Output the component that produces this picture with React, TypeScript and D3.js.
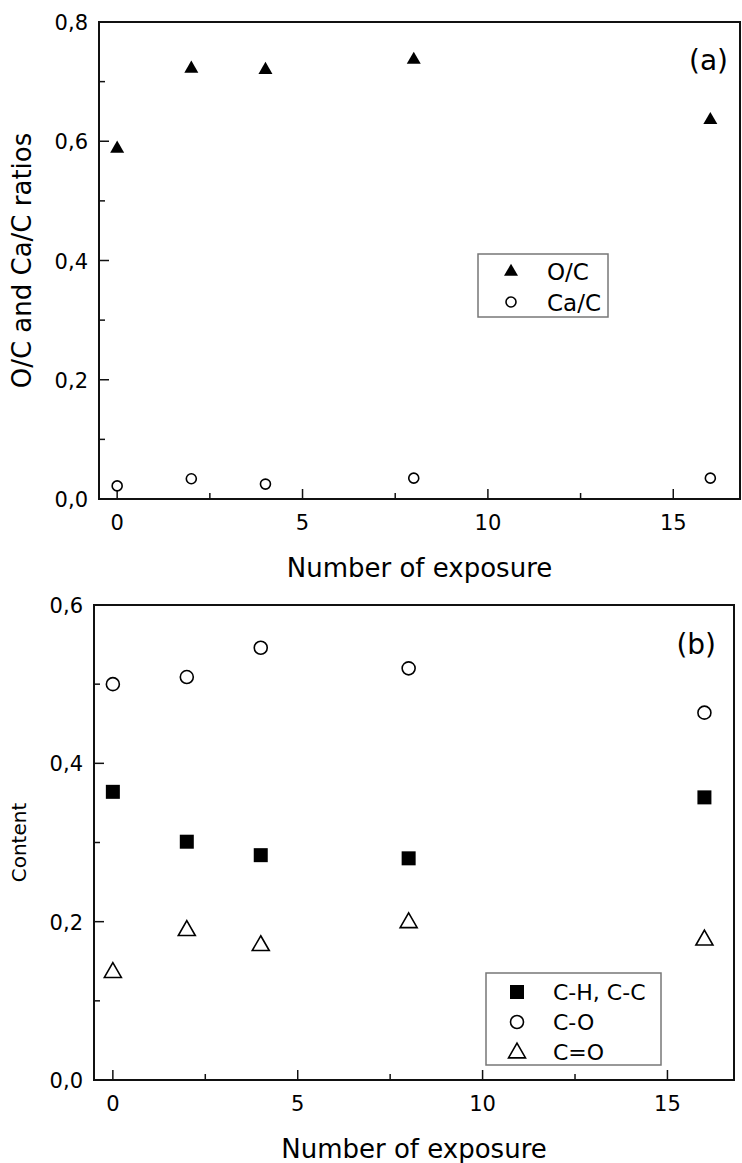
import React from 'react';
import * as d3 from 'd3';

// exposure counts shared by both panels
const exposures = [0, 2, 4, 8, 16];

// panel (a)
const ocRatio = [0.589, 0.723, 0.721, 0.738, 0.637];
const cacRatio = [0.022, 0.034, 0.025, 0.035, 0.035];
const yTicksA = [0, 0.2, 0.4, 0.6, 0.8];

// panel (b)
const chcc = [0.364, 0.301, 0.284, 0.280, 0.357];
const co = [0.5, 0.509, 0.546, 0.52, 0.464];
const cdo = [0.137, 0.19, 0.171, 0.2, 0.178];
const yTicksB = [0, 0.2, 0.4, 0.6];

const xTicks = [0, 5, 10, 15];
const xMinor = [2.5, 7.5, 12.5];

const FONT = 'DejaVu Sans, Verdana, sans-serif';
const fmt = (v) => d3.format('.1f')(v).replace('.', ',');

const triPath = (cx, cy, w) => {
  const h = w * 0.87;
  return `M${cx},${cy - h * 0.6}L${cx + w / 2},${cy + h * 0.4}L${cx - w / 2},${cy + h * 0.4}Z`;
};

function Frame({ x, y, yTicks, yMinor, xLabel, yLabel, yLabelX, yLabelSize, tag }) {
  const [x0, x1] = x.range();
  const [y0, y1] = y.range();
  return (
    <g>
      <rect x={x0} y={y1} width={x1 - x0} height={y0 - y1} fill="none" stroke="#111" strokeWidth={2} />
      {xTicks.map((t) => (
        <g key={'xt' + t}>
          <line x1={x(t)} x2={x(t)} y1={y0} y2={y0 - 10} stroke="#111" strokeWidth={1.5} />
          <text x={x(t)} y={y0 + 31} textAnchor="middle" fontSize={21} fontFamily={FONT}>{t}</text>
        </g>
      ))}
      {xMinor.map((t) => (
        <line key={'xm' + t} x1={x(t)} x2={x(t)} y1={y0} y2={y0 - 6} stroke="#111" strokeWidth={1.5} />
      ))}
      {yTicks.map((t) => (
        <g key={'yt' + t}>
          <line x1={x0} x2={x0 + 10} y1={y(t)} y2={y(t)} stroke="#111" strokeWidth={1.5} />
          <text x={x0 - 11} y={y(t) + 8} textAnchor="end" fontSize={21} fontFamily={FONT}>{fmt(t)}</text>
        </g>
      ))}
      {yMinor.map((t) => (
        <line key={'ym' + t} x1={x0} x2={x0 + 6} y1={y(t)} y2={y(t)} stroke="#111" strokeWidth={1.5} />
      ))}
      <text x={(x0 + x1) / 2} y={y0 + 78} textAnchor="middle" fontSize={26} fontFamily={FONT}>{xLabel}</text>
      <text transform={`translate(${yLabelX},${(y0 + y1) / 2}) rotate(-90)`} textAnchor="middle"
        fontSize={yLabelSize} fontFamily={FONT}>{yLabel}</text>
      <text x={tag.x} y={tag.y} textAnchor="end" fontSize={28} fontFamily={FONT}>{tag.text}</text>
    </g>
  );
}

export default function App() {
  const xA = d3.scaleLinear().domain([-0.49, 16.8]).range([99, 740]);
  const yA = d3.scaleLinear().domain([0, 0.8]).range([499, 22]);
  const xB = d3.scaleLinear().domain([-0.51, 16.8]).range([94, 734]);
  const yB = d3.scaleLinear().domain([0, 0.6]).range([1080, 605]);

  return (
    <svg width={742} height={1163} style={{ position: 'absolute', left: 0, top: 0, background: '#fff' }}>
      {/* panel (a) */}
      <Frame x={xA} y={yA} yTicks={yTicksA} yMinor={[0.1, 0.3, 0.5, 0.7]}
        xLabel="Number of exposure" yLabel="O/C and Ca/C ratios" yLabelX={31} yLabelSize={26}
        tag={{ x: 728, y: 70, text: '(a)' }} />
      {exposures.map((e, i) => (
        <path key={'oc' + i} d={triPath(xA(e), yA(ocRatio[i]), 14)} fill="#000" />
      ))}
      {exposures.map((e, i) => (
        <circle key={'cac' + i} cx={xA(e)} cy={yA(cacRatio[i])} r={5} fill="#fff" stroke="#000" strokeWidth={1.6} />
      ))}
      <rect x={478} y={254} width={130} height={63} fill="#fff" stroke="#777" strokeWidth={1.5} />
      <path d={triPath(511, 271, 14)} fill="#000" />
      <circle cx={511} cy={302} r={5} fill="#fff" stroke="#000" strokeWidth={1.6} />
      <text x={547} y={280} fontSize={23} fontFamily={FONT}>O/C</text>
      <text x={547} y={311} fontSize={23} fontFamily={FONT}>Ca/C</text>

      {/* panel (b) */}
      <Frame x={xB} y={yB} yTicks={yTicksB} yMinor={[0.1, 0.3, 0.5]}
        xLabel="Number of exposure" yLabel="Content" yLabelX={26} yLabelSize={20}
        tag={{ x: 716, y: 654, text: '(b)' }} />
      {exposures.map((e, i) => (
        <circle key={'co' + i} cx={xB(e)} cy={yB(co[i])} r={6.5} fill="#fff" stroke="#000" strokeWidth={1.6} />
      ))}
      {exposures.map((e, i) => (
        <rect key={'ch' + i} x={xB(e) - 7} y={yB(chcc[i]) - 7} width={14} height={14} fill="#000" />
      ))}
      {exposures.map((e, i) => (
        <path key={'cdo' + i} d={triPath(xB(e), yB(cdo[i]), 17)} fill="#fff" stroke="#000" strokeWidth={1.6} />
      ))}
      <rect x={486} y={973} width={175} height={92} fill="#fff" stroke="#777" strokeWidth={1.5} />
      <rect x={510} y={985} width={14} height={14} fill="#000" />
      <circle cx={517} cy={1022} r={6.5} fill="#fff" stroke="#000" strokeWidth={1.6} />
      <path d={triPath(517, 1052, 17)} fill="#fff" stroke="#000" strokeWidth={1.6} />
      <text x={553} y={1000} fontSize={22} fontFamily={FONT}>C-H, C-C</text>
      <text x={553} y={1030} fontSize={22} fontFamily={FONT}>C-O</text>
      <text x={553} y={1060} fontSize={22} fontFamily={FONT}>C=O</text>
    </svg>
  );
}
